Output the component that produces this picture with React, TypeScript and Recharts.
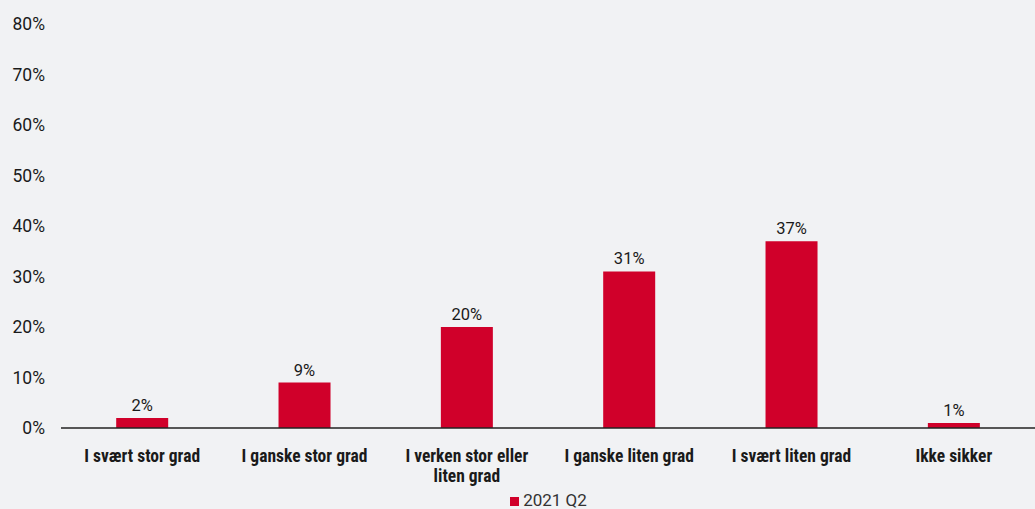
import { Bar, BarChart, LabelList, Legend, Text, XAxis, YAxis } from 'recharts';

const categories = [
  'I svært stor grad',
  'I ganske stor grad',
  'I verken stor eller liten grad',
  'I ganske liten grad',
  'I svært liten grad',
  'Ikke sikker',
];
const q2_2021 = [2, 9, 20, 31, 37, 1];
const yTicks = [0, 10, 20, 30, 40, 50, 60, 70, 80];

const data = categories.map((name, i) => ({ name, value: q2_2021[i] }));

const RED = '#d0002a';
const TEXT = '#1a1a1a';
const condensed = '"Liberation Sans Narrow", "Arial Narrow", "Roboto Condensed", sans-serif';

const CategoryTick = (props: any) => {
  const { x, y, payload } = props;
  return (
    <Text
      x={x}
      y={y + 14}
      width={132}
      textAnchor="middle"
      verticalAnchor="start"
      fontFamily={condensed}
      fontWeight="bold"
      fontSize={17.5}
      fill={TEXT}
      lineHeight={20}
    >
      {payload.value}
    </Text>
  );
};

export default function App() {
  return (
    <div style={{ position: 'absolute', left: 0, top: 0, width: 1035, height: 509, background: '#f1f2f4', fontFamily: 'Roboto, sans-serif' }}>
      <BarChart width={1035} height={509} data={data} margin={{ left: 0, right: 0, top: 24, bottom: 0 }} barCategoryGap="34%">
        <XAxis dataKey="name" tick={<CategoryTick />} tickLine={false} axisLine={{ stroke: '#222', strokeWidth: 1.5 }} interval={0} height={61} />
        <YAxis
          domain={[0, 80]}
          ticks={yTicks}
          tickFormatter={(v: number) => `${v}%`}
          axisLine={false}
          tickLine={false}
          width={61}
          tick={{ fill: TEXT, fontSize: 17.5, dx: -8 }}
        />
        <Legend
          verticalAlign="bottom"
          iconType="square"
          iconSize={9}
          height={20}
          wrapperStyle={{ bottom: -1, paddingLeft: 36 }}
          formatter={(v: string) => <span style={{ color: '#333', fontSize: 17 }}>{v}</span>}
        />
        <Bar dataKey="value" name="2021 Q2" fill={RED} isAnimationActive={false}>
          <LabelList dataKey="value" position="top" offset={7} formatter={(v: any) => `${v}%`} fill={TEXT} fontSize={16.5} />
        </Bar>
      </BarChart>
    </div>
  );
}
